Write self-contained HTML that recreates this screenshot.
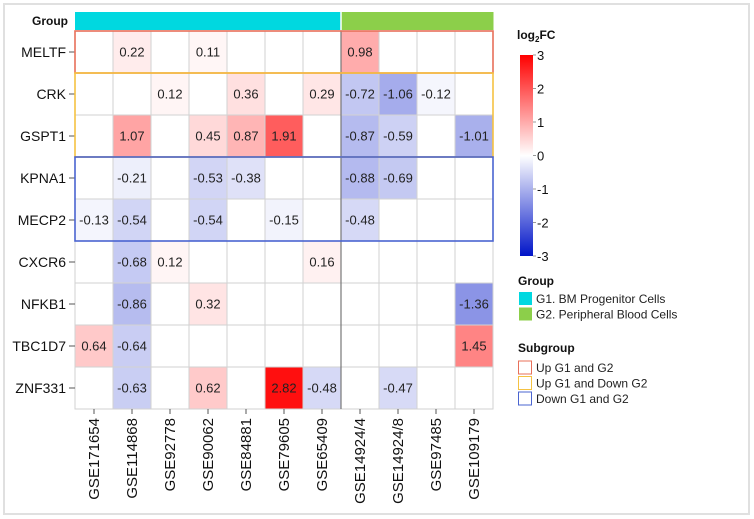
<!DOCTYPE html>
<html><head><meta charset="utf-8"><style>
body{margin:0;background:#fff;}
svg{display:block;font-family:"Liberation Sans",Arial,sans-serif;}
</style></head><body>
<svg id="chart" width="754" height="519" viewBox="0 0 754 519">
<rect x="4" y="4" width="745" height="510" fill="#fff" stroke="#e0e0e0" stroke-width="2"/>
<g id="cells"></g><g id="grid"></g><g id="boxes"></g><g id="labels"></g><g id="legend"></g>
<text x="517" y="39" font-size="12" font-weight="bold" fill="#111">log<tspan font-size="8" dy="3">2</tspan><tspan dy="-3">FC</tspan></text>
</svg>
<script>
const genes=["MELTF","CRK","GSPT1","KPNA1","MECP2","CXCR6","NFKB1","TBC1D7","ZNF331"];
const datasets=["GSE171654","GSE114868","GSE92778","GSE90062","GSE84881","GSE79605","GSE65409","GSE14924/4","GSE14924/8","GSE97485","GSE109179"];
const groups=["G1","G1","G1","G1","G1","G1","G1","G2","G2","G2","G2"];
const rowMELTF=[null,0.22,null,0.11,null,null,null,0.98,null,null,null];
const rowCRK=[null,null,0.12,null,0.36,null,0.29,-0.72,-1.06,-0.12,null];
const rowGSPT1=[null,1.07,null,0.45,0.87,1.91,null,-0.87,-0.59,null,-1.01];
const rowKPNA1=[null,-0.21,null,-0.53,-0.38,null,null,-0.88,-0.69,null,null];
const rowMECP2=[-0.13,-0.54,null,-0.54,null,-0.15,null,-0.48,null,null,null];
const rowCXCR6=[null,-0.68,0.12,null,null,null,0.16,null,null,null,null];
const rowNFKB1=[null,-0.86,null,0.32,null,null,null,null,null,null,-1.36];
const rowTBC1D7=[0.64,-0.64,null,null,null,null,null,null,null,null,1.45];
const rowZNF331=[null,-0.63,null,0.62,null,2.82,-0.48,null,-0.47,null,null];
const values=[rowMELTF,rowCRK,rowGSPT1,rowKPNA1,rowMECP2,rowCXCR6,rowNFKB1,rowTBC1D7,rowZNF331];
const subgroups=[["Up G1 and G2",0,0,"#e8705a"],["Up G1 and Down G2",1,2,"#f5c242"],["Down G1 and G2",3,4,"#4a64d0"]];
const scaleTicks=[3,2,1,0,-1,-2,-3];

const NS="http://www.w3.org/2000/svg";
const X0=75,Y0=31,CW=38,RH=42;
const xPos=i=>X0+i*CW, yPos=j=>Y0+j*RH;
function mk(tag,attrs,parent,text){const e=document.createElementNS(NS,tag);for(const k in attrs)e.setAttribute(k,attrs[k]);if(text!==undefined)e.textContent=text;parent.appendChild(e);return e;}
function color(v){
  if(v>=0){const t=Math.min(v/3,1);const g=Math.round(255*(1-t));return `rgb(255,${g},${g})`;}
  const t=Math.min(-v/3,1);return `rgb(${Math.round(255*(1-t))},${Math.round(255-t*235)},${Math.round(255-t*55)})`;
}
const cells=document.getElementById('cells'),grid=document.getElementById('grid'),boxes=document.getElementById('boxes'),labels=document.getElementById('labels'),legend=document.getElementById('legend');
mk('text',{x:68,y:25,'text-anchor':'end','font-size':12,'font-weight':'bold',fill:'#111',},labels,'Group');
groups.forEach((g,i)=>{const r=mk('rect',{x:xPos(i),y:12,width:CW+0.5,height:18,fill:g==="G1"?"#00d8e0":"#8ccf4a"},cells);

});
mk('line',{x1:xPos(7),x2:xPos(7),y1:12,y2:30,stroke:'#fff','stroke-width':1.5},grid);
values.forEach((row,j)=>{row.forEach((v,i)=>{
  const r=mk('rect',{x:xPos(i),y:yPos(j),width:CW,height:RH,fill:v===null?'#fff':color(v),stroke:'#d2d2d2','stroke-width':1},cells);
  
  
  if(v!==null){const t=mk('text',{x:xPos(i)+CW/2,y:yPos(j)+RH/2+4.5,'text-anchor':'middle','font-size':13,fill:'#222'},labels,v.toFixed(2));
  
  }
});
  const t=mk('text',{x:66,y:yPos(j)+RH/2+5,'text-anchor':'end','font-size':14,fill:'#111'},labels,genes[j]);
  
  
  mk('line',{x1:69,x2:X0,y1:yPos(j)+RH/2,y2:yPos(j)+RH/2,stroke:'#555'},grid);
});
mk('line',{x1:xPos(7),x2:xPos(7),y1:Y0,y2:yPos(9),stroke:'#777','stroke-width':1.2},grid);
datasets.forEach((d,i)=>{const cx=xPos(i)+CW/2;
  mk('line',{x1:cx,x2:cx,y1:yPos(9),y2:yPos(9)+5,stroke:'#555'},grid);
  const t=mk('text',{x:0,y:0,transform:`translate(${cx+5},${yPos(9)+9}) rotate(-90)`,'text-anchor':'end','font-size':15,fill:'#111'},labels,d);
  
  
});
subgroups.forEach(s=>{const b=mk('rect',{x:X0,y:yPos(s[1]),width:CW*11,height:RH*(s[2]-s[1]+1),fill:'none',stroke:s[3],'stroke-width':1.6},boxes);

});
const defs=mk('defs',{},legend);const lg=mk('linearGradient',{id:'cb',x1:0,y1:0,x2:0,y2:1},defs);
[3,1.5,0,-1.5,-3].forEach((v,k)=>mk('stop',{offset:(k*25)+'%','stop-color':color(v)},lg));
const CB0=55,CB1=256,cy=v=>CB0+(3-v)/6*(CB1-CB0);
mk('rect',{x:520,y:CB0,width:13,height:CB1-CB0,fill:'url(#cb)',},legend);
scaleTicks.forEach(v=>{mk('line',{x1:533,x2:536,y1:cy(v),y2:cy(v),stroke:'#999'},legend);
const t=mk('text',{x:537,y:cy(v)+5,'font-size':13,fill:'#111'},legend,String(v));

});
mk('text',{x:518,y:285,'font-size':12,'font-weight':'bold',fill:'#111',},legend,'Group');
[["G1. BM Progenitor Cells","#00d8e0"],["G2. Peripheral Blood Cells","#8ccf4a"]].forEach((g,k)=>{
  const y=292+k*15.5;mk('rect',{x:519,y:y,width:13,height:13,fill:g[1]},legend);
  const t=mk('text',{x:536,y:y+11,'font-size':12,fill:'#222'},legend,g[0]);
  
  });
mk('text',{x:518,y:352,'font-size':12,'font-weight':'bold',fill:'#111',},legend,'Subgroup');
subgroups.forEach((s,k)=>{const y=361+k*15.5;mk('rect',{x:518.5,y:y,width:13,height:13,fill:'none',stroke:s[3]},legend);
  const t=mk('text',{x:536,y:y+11,'font-size':12,fill:'#222'},legend,s[0]);
  
  });
</script>
</body></html>
